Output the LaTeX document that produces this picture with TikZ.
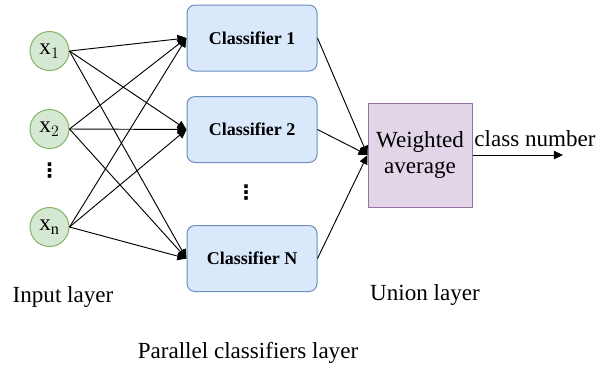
\documentclass[tikz,border=0pt]{standalone}
\usepackage{fontspec}
\setmainfont{Liberation Serif}
\newfontfamily\symfont{DejaVu Sans}
\usepackage{xcolor}
\usetikzlibrary{arrows.meta}

\definecolor{inFill}{HTML}{D5E8D4}
\definecolor{inLine}{HTML}{82B366}
\definecolor{clFill}{HTML}{DAE8FC}
\definecolor{clLine}{HTML}{6C8EBF}
\definecolor{unFill}{HTML}{E1D5E7}
\definecolor{unLine}{HTML}{9673A6}

\begin{document}
\begin{tikzpicture}[x=0.75pt, y=-0.75pt, font=\fontsize{17.3}{20}\selectfont,
  inp/.style={circle, draw=inLine, fill=inFill, minimum size=29.25pt,
              inner sep=0pt, line width=0.75pt},
  clf/.style={draw=clLine, fill=clFill, rounded corners=6pt,
              minimum width=97.5pt, minimum height=49.5pt, line width=0.75pt,
              font=\fontsize{13.5}{16}\selectfont\bfseries},
  uni/.style={draw=unLine, fill=unFill, minimum width=78pt, line width=0.75pt,
              minimum height=78pt, align=center, inner sep=2pt},
  dts/.style={inner sep=0pt, font=\symfont\bfseries\fontsize{15}{15}\selectfont},
  lbl/.style={inner sep=1pt},
  arr/.style={-{Triangle[length=2.4mm, width=2.2mm]}, black, line width=0.7pt}]
\useasboundingbox (0,0) rectangle (605,369);

% input layer
\node[inp] (x1) at (49.5, 51)  {x$_1$};
\node[inp] (x2) at (49.5, 129) {x$_2$};
\node[inp] (xn) at (49.5, 227) {x$_{\mathrm{n}}$};
\node[dts] (vd1) at (49.5, 171) {⋮};

% parallel classifiers
\node[clf] (c1) at (252, 38)    {Classifier 1};
\node[clf] (c2) at (252, 129.5) {Classifier 2};
\node[clf] (cn) at (252, 258.5) {Classifier N};
\node[dts] (vd2) at (246, 193) {⋮};

% union
\node[uni] (wa) at (420, 155) {Weighted\\average};
\coordinate (out) at (563, 155);

% every input feeds every classifier
\draw[arr] (x1.east) -- (c1.west);
\draw[arr] (x1.east) -- (c2.west);
\draw[arr] (x1.east) -- (cn.west);
\draw[arr] (x2.east) -- (c1.west);
\draw[arr] (x2.east) -- (c2.west);
\draw[arr] (x2.east) -- (cn.west);
\draw[arr] (xn.east) -- (c1.west);
\draw[arr] (xn.east) -- (c2.west);
\draw[arr] (xn.east) -- (cn.west);

\draw[arr] (c1.east) -- (wa.west);
\draw[arr] (c2.east) -- (wa.west);
\draw[arr] (cn.east) -- (wa.west);
\draw[arr] (wa.east) -- (out);
\node[lbl] (cls) at (535, 139) {class number};

% layer names
\node[lbl] (lin) at (63, 297)  {Input layer};
\node[lbl] (lun) at (425, 295) {Union layer};
\node[lbl] (lpa) at (248, 353) {Parallel classifiers layer};
\end{tikzpicture}
\end{document}
